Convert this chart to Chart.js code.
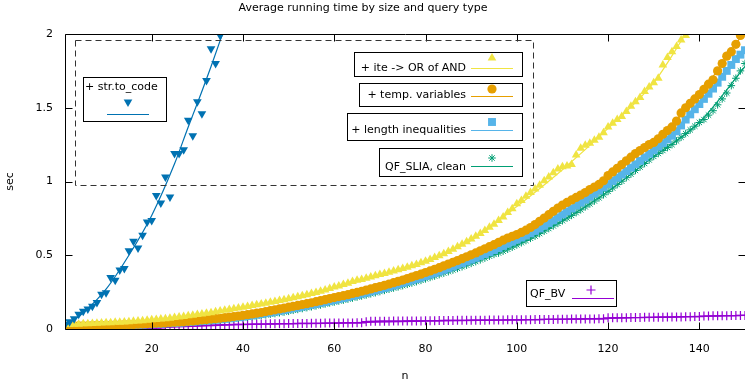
<!DOCTYPE html>
<html><head><meta charset="utf-8">
<script src="https://cdn.jsdelivr.net/npm/chart.js@4.4.1/dist/chart.umd.min.js"></script>
<style>html,body{margin:0;padding:0;background:#fff;}canvas{display:block;}</style>
</head><body>
<canvas id="c" width="745" height="384"></canvas>
<script>
const chartTitle = 'Average running time by size and query type';
const xTitle = 'n';
const yTitle = 'sec';
const xTicks = [20, 40, 60, 80, 100, 120, 140];
const yTicks = [0, 0.5, 1, 1.5, 2];
const yTickLabels = ['0', '0.5', '1', '1.5', '2'];

const seriesNames = ['+ str.to_code', '+ ite -> OR of AND', '+ temp. variables', '+ length inequalities', 'QF_SLIA, clean', 'QF_BV'];

// str.to_code, n = 1..35
const strToCode = [0.03,0.05,0.07,0.10,0.12,0.135,0.155,0.18,0.235,0.245,0.35,0.33,0.40,0.41,0.53,0.595,0.55,0.635,0.725,0.735,0.905,0.855,1.03,0.895,1.19,1.19,1.215,1.415,1.31,1.54,1.46,1.685,1.90,1.80,1.99];
// ite -> OR of AND, n = 1..137
const iteOrAnd = [0.030,0.031,0.032,0.033,0.035,0.036,0.037,0.039,0.040,0.042,
0.043,0.045,0.046,0.048,0.050,0.052,0.054,0.056,0.059,0.062,
0.064,0.067,0.070,0.073,0.078,0.081,0.085,0.089,0.094,0.098,
0.102,0.107,0.111,0.117,0.122,0.127,0.132,0.137,0.143,0.148,
0.153,0.159,0.164,0.170,0.175,0.181,0.187,0.193,0.199,0.205,
0.212,0.219,0.226,0.232,0.240,0.247,0.256,0.264,0.274,0.285,
0.292,0.301,0.310,0.322,0.330,0.336,0.344,0.352,0.361,0.370,
0.377,0.385,0.393,0.401,0.410,0.418,0.428,0.438,0.449,0.460,
0.472,0.485,0.497,0.511,0.525,0.541,0.557,0.574,0.592,0.610,
0.628,0.648,0.668,0.689,0.710,0.735,0.760,0.790,0.815,0.850,
0.872,0.900,0.925,0.950,0.975,1.005,1.030,1.060,1.085,1.100,
1.105,1.115,1.180,1.225,1.245,1.260,1.280,1.300,1.330,1.370,
1.395,1.420,1.440,1.475,1.510,1.540,1.570,1.610,1.640,1.670,
1.700,1.790,1.840,1.880,1.915,1.960,1.990];
// temp. variables, n = 1..150
const tempVars = [0.020,0.020,0.021,0.021,0.022,0.022,0.023,0.024,0.024,0.025,
0.026,0.027,0.028,0.029,0.030,0.031,0.033,0.034,0.036,0.037,
0.039,0.040,0.042,0.044,0.046,0.048,0.050,0.052,0.055,0.058,
0.061,0.064,0.067,0.070,0.073,0.077,0.080,0.084,0.088,0.093,
0.097,0.102,0.107,0.112,0.118,0.124,0.130,0.136,0.142,0.148,
0.154,0.160,0.166,0.172,0.178,0.185,0.192,0.199,0.206,0.213,
0.220,0.226,0.233,0.241,0.248,0.256,0.264,0.272,0.280,0.288,
0.296,0.305,0.314,0.323,0.332,0.342,0.352,0.362,0.372,0.383,
0.394,0.405,0.416,0.428,0.440,0.452,0.464,0.477,0.490,0.503,
0.516,0.530,0.544,0.558,0.572,0.587,0.602,0.617,0.628,0.640,
0.655,0.670,0.688,0.708,0.730,0.752,0.775,0.798,0.820,0.840,
0.858,0.875,0.892,0.908,0.925,0.945,0.962,0.980,1.005,1.040,
1.065,1.090,1.115,1.140,1.165,1.190,1.210,1.230,1.250,1.265,
1.290,1.320,1.345,1.370,1.410,1.465,1.500,1.530,1.560,1.590,
1.625,1.660,1.690,1.750,1.800,1.850,1.880,1.930,1.990,2.030];
// length inequalities, n = 1..150
const lengthIneq = [0.018,0.018,0.019,0.019,0.020,0.020,0.021,0.021,0.022,0.023,
0.023,0.024,0.025,0.026,0.027,0.028,0.029,0.030,0.032,0.033,
0.035,0.036,0.038,0.040,0.041,0.043,0.045,0.047,0.050,0.052,
0.055,0.057,0.060,0.063,0.066,0.069,0.072,0.076,0.080,0.084,
0.088,0.092,0.097,0.102,0.107,0.112,0.118,0.123,0.129,0.135,
0.141,0.146,0.152,0.158,0.164,0.170,0.177,0.183,0.190,0.197,
0.204,0.210,0.217,0.224,0.231,0.239,0.246,0.254,0.262,0.270,
0.278,0.286,0.294,0.303,0.312,0.321,0.330,0.339,0.349,0.359,
0.369,0.379,0.390,0.401,0.412,0.423,0.434,0.446,0.458,0.470,
0.482,0.495,0.508,0.521,0.535,0.549,0.563,0.578,0.592,0.606,
0.620,0.634,0.649,0.665,0.682,0.700,0.718,0.737,0.757,0.777,
0.797,0.817,0.837,0.857,0.877,0.897,0.918,0.939,0.960,0.982,
1.004,1.026,1.048,1.071,1.094,1.117,1.140,1.164,1.188,1.212,
1.236,1.260,1.285,1.310,1.340,1.380,1.420,1.455,1.490,1.525,
1.560,1.595,1.630,1.670,1.710,1.750,1.790,1.830,1.860,1.890];
// QF_SLIA, clean, n = 1..150
const slia = [0.016,0.016,0.017,0.017,0.018,0.018,0.019,0.019,0.020,0.021,
0.021,0.022,0.023,0.024,0.025,0.026,0.027,0.028,0.029,0.030,
0.032,0.033,0.035,0.036,0.038,0.040,0.042,0.044,0.046,0.048,
0.050,0.053,0.055,0.058,0.061,0.064,0.067,0.070,0.073,0.077,
0.080,0.084,0.088,0.092,0.096,0.101,0.105,0.110,0.115,0.120,
0.127,0.133,0.139,0.145,0.151,0.157,0.163,0.170,0.177,0.183,
0.190,0.196,0.203,0.210,0.217,0.224,0.231,0.239,0.246,0.254,
0.262,0.270,0.278,0.286,0.294,0.303,0.312,0.321,0.330,0.340,
0.350,0.359,0.369,0.379,0.389,0.400,0.411,0.422,0.433,0.445,
0.457,0.469,0.481,0.494,0.506,0.515,0.528,0.541,0.555,0.570,
0.585,0.600,0.615,0.630,0.647,0.664,0.681,0.699,0.716,0.734,
0.752,0.770,0.789,0.808,0.828,0.848,0.868,0.889,0.910,0.933,
0.956,0.979,1.002,1.026,1.050,1.075,1.098,1.122,1.146,1.170,
1.190,1.210,1.230,1.250,1.275,1.300,1.325,1.350,1.375,1.400,
1.420,1.450,1.480,1.520,1.560,1.600,1.650,1.700,1.750,1.800];
// QF_BV, n = 1..150
const qfbv = [0.004,0.004,0.004,0.004,0.004,0.004,0.004,0.004,0.004,0.004,
0.005,0.005,0.005,0.005,0.005,0.005,0.005,0.005,0.005,0.005,
0.006,0.008,0.012,0.016,0.018,0.019,0.020,0.021,0.022,0.023,
0.024,0.025,0.026,0.027,0.028,0.029,0.030,0.031,0.031,0.032,
0.032,0.033,0.033,0.034,0.034,0.035,0.035,0.036,0.036,0.037,
0.037,0.038,0.038,0.038,0.039,0.039,0.039,0.040,0.040,0.040,
0.040,0.041,0.041,0.041,0.042,0.042,0.050,0.052,0.052,0.053,
0.053,0.053,0.054,0.054,0.054,0.055,0.055,0.055,0.055,0.056,
0.056,0.056,0.057,0.058,0.058,0.058,0.059,0.059,0.059,0.060,
0.060,0.060,0.060,0.061,0.061,0.061,0.061,0.062,0.062,0.062,
0.062,0.063,0.063,0.064,0.064,0.065,0.065,0.065,0.066,0.066,
0.066,0.067,0.067,0.067,0.068,0.068,0.068,0.069,0.069,0.076,
0.076,0.077,0.077,0.077,0.078,0.078,0.078,0.079,0.079,0.079,
0.080,0.080,0.081,0.081,0.082,0.082,0.083,0.083,0.084,0.084,
0.088,0.088,0.089,0.089,0.090,0.090,0.091,0.091,0.092,0.092];

// fitted curves
const strFitN = [1, 5, 10, 15, 20, 25, 28, 30, 33, 35.5];
const strFitV = [0.02, 0.11, 0.27, 0.50, 0.77, 1.12, 1.37, 1.53, 1.78, 2.0];
const iteFitN = [1, 20, 40, 60, 80, 90, 100, 110, 120, 130, 137];
const iteFitV = [0.03, 0.06, 0.147, 0.28, 0.46, 0.60, 0.83, 1.08, 1.36, 1.67, 2.0];
const fitN = [1, 20, 40, 60, 80, 100, 110, 120, 130, 140, 150];
const tempFitV = [0.02, 0.037, 0.093, 0.213, 0.383, 0.64, 0.84, 1.04, 1.265, 1.59, 2.02];
const lenFitV = [0.018, 0.033, 0.084, 0.197, 0.359, 0.606, 0.777, 0.982, 1.212, 1.525, 1.89];
const sliaFitV = [0.016, 0.030, 0.077, 0.183, 0.340, 0.570, 0.734, 0.933, 1.170, 1.400, 1.78];
const bvFitN = [1, 20, 40, 60, 80, 100, 120, 150];
const bvFitV = [0.003, 0.008, 0.030, 0.040, 0.054, 0.062, 0.072, 0.092];

const colors = ['#0072b2', '#f0e442', '#e69f00', '#56b4e9', '#009e73', '#9400d3'];

const toPts = arr => arr.map((v, i) => ({x: i + 1, y: v}));
const toFit = (ns, vs) => ns.map((n, i) => ({x: n, y: vs[i]}));

function pts(label, arr, color, style, radius, extra) {
  return Object.assign({
    label, data: toPts(arr), showLine: false,
    pointStyle: style, pointRadius: radius, pointHoverRadius: radius,
    backgroundColor: color, borderColor: color, pointBorderWidth: 0
  }, extra || {});
}
function fit(label, ns, vs, color, w) {
  return {
    label, data: toFit(ns, vs), showLine: true, pointRadius: 0,
    borderColor: color, borderWidth: w || 1, cubicInterpolationMode: 'monotone', fill: false
  };
}

const datasets = [
  fit('fit str', strFitN, strFitV, colors[0], 1.2),
  pts(seriesNames[0], strToCode, colors[0], 'triangle', 5, {rotation: 180}),
  fit('fit ite', iteFitN, iteFitV, colors[1], 1.2),
  pts(seriesNames[1], iteOrAnd, colors[1], 'triangle', 5),
  pts(seriesNames[2], tempVars, colors[2], 'circle', 4.6),
  fit('fit temp', fitN, tempFitV, colors[2], 1.2),
  pts(seriesNames[3], lengthIneq, colors[3], 'rect', 5.6),
  fit('fit len', fitN, lenFitV, colors[3], 1.2),
  pts(seriesNames[4], slia, colors[4], 'star', 3.8, {pointBorderWidth: 1}),
  fit('fit slia', fitN, sliaFitV, colors[4], 1.2),
  pts(seriesNames[5], qfbv, colors[5], 'cross', 4.5, {pointBorderWidth: 1.2}),
  fit('fit bv', bvFitN, bvFitV, colors[5], 1.2)
];

function marker(ctx, style, x, y, r, color, rot) {
  ctx.save();
  ctx.fillStyle = color; ctx.strokeStyle = color; ctx.lineWidth = 1.2;
  ctx.translate(x, y);
  if (rot) ctx.rotate(rot * Math.PI / 180);
  ctx.beginPath();
  if (style === 'triangle') {
    ctx.moveTo(0, -r); ctx.lineTo(r * 0.866, r * 0.5); ctx.lineTo(-r * 0.866, r * 0.5); ctx.closePath(); ctx.fill();
  } else if (style === 'circle') {
    ctx.arc(0, 0, r, 0, Math.PI * 2); ctx.fill();
  } else if (style === 'rect') {
    const s = r * Math.SQRT1_2; ctx.rect(-s, -s, 2 * s, 2 * s); ctx.fill();
  } else if (style === 'cross') {
    ctx.moveTo(0, -r); ctx.lineTo(0, r); ctx.moveTo(-r, 0); ctx.lineTo(r, 0); ctx.stroke();
  } else if (style === 'star') {
    ctx.lineWidth = 1;
    for (let k = 0; k < 4; k++) { const a = k * Math.PI / 4; ctx.moveTo(-r * Math.cos(a), -r * Math.sin(a)); ctx.lineTo(r * Math.cos(a), r * Math.sin(a)); }
    ctx.stroke();
  }
  ctx.restore();
}

const keys = [
  {name: seriesNames[0], box: [83.5, 77.5, 166.5, 121.5], text: [85, 87, 'left'], mk: [128, 102], ln: [107, 149, 114.5], color: colors[0], style: 'triangle', r: 5, rot: 180},
  {name: seriesNames[1], box: [354.5, 52.5, 522.5, 76.5], text: [466, 68, 'right'], mk: [492, 58], ln: [471, 513, 68.5], color: colors[1], style: 'triangle', r: 5},
  {name: seriesNames[2], box: [359.5, 83.5, 522.5, 106.5], text: [466, 95, 'right'], mk: [492, 89], ln: [471, 513, 96.5], color: colors[2], style: 'circle', r: 4.6},
  {name: seriesNames[3], box: [347.5, 113.5, 522.5, 140.5], text: [466, 130, 'right'], mk: [492, 122], ln: [471, 513, 130.5], color: colors[3], style: 'rect', r: 5.6},
  {name: seriesNames[4], box: [379.5, 148.5, 522.5, 176.5], text: [466, 167, 'right'], mk: [492, 158], ln: [471, 513, 166.5], color: colors[4], style: 'star', r: 3.8},
  {name: seriesNames[5], box: [526.5, 280.5, 616.5, 306.5], text: [530, 294, 'left'], mk: [591, 290], ln: [572, 614, 298.5], color: colors[5], style: 'cross', r: 4.5}
];

const decor = {
  id: 'decor',
  afterDatasetsDraw(chart) {
    const {ctx, chartArea: a, scales: {x, y}} = chart;
    ctx.save();
    ctx.strokeStyle = '#000'; ctx.lineWidth = 1;
    const L = Math.round(a.left) + 0.5, R = Math.round(a.right) + 0.5, T = Math.round(a.top) + 0.5, B = Math.round(a.bottom) + 0.5;
    ctx.beginPath();
    ctx.rect(L, T, R - L, B - T);
    xTicks.forEach(v => {
      const px = Math.round(x.getPixelForValue(v)) + 0.5;
      ctx.moveTo(px, B); ctx.lineTo(px, B - 7);
      ctx.moveTo(px, T); ctx.lineTo(px, T + 7);
    });
    yTicks.forEach(v => {
      const py = Math.round(y.getPixelForValue(v)) + 0.5;
      ctx.moveTo(L, py); ctx.lineTo(L + 7, py);
      ctx.moveTo(R, py); ctx.lineTo(R - 7, py);
    });
    ctx.stroke();

    // dashed outer key frame
    ctx.beginPath();
    ctx.setLineDash([6, 4]);
    ctx.strokeStyle = '#333';
    ctx.rect(75.5, 40.5, 458, 145);
    ctx.stroke();
    ctx.setLineDash([]);

    // key boxes
    ctx.font = '11px "DejaVu Sans"';
    ctx.textBaseline = 'middle';
    keys.forEach(k => {
      const [x0, y0, x1, y1] = k.box;
      ctx.fillStyle = '#fff';
      ctx.fillRect(x0, y0, x1 - x0, y1 - y0);
      ctx.strokeStyle = '#000'; ctx.lineWidth = 1;
      ctx.strokeRect(x0, y0, x1 - x0, y1 - y0);
      ctx.fillStyle = '#000';
      ctx.textAlign = k.text[2];
      ctx.fillText(k.name, k.text[0], k.text[1]);
      ctx.strokeStyle = k.color; ctx.lineWidth = 1.2;
      ctx.beginPath(); ctx.moveTo(k.ln[0], k.ln[2]); ctx.lineTo(k.ln[1], k.ln[2]); ctx.stroke();
      marker(ctx, k.style, k.mk[0], k.mk[1], k.r, k.color, k.rot);
    });

    // title
    ctx.fillStyle = '#000';
    ctx.textAlign = 'center';
    ctx.fillText(chartTitle, 363, 8);
    ctx.restore();
  }
};

Chart.defaults.font.family = '"DejaVu Sans"';
Chart.defaults.font.size = 11;
Chart.defaults.color = '#000';

const noPad = s => { s.paddingLeft = 0; s.paddingRight = 0; s.paddingTop = 0; s.paddingBottom = 0; };

new Chart(document.getElementById('c'), {
  type: 'scatter',
  data: {datasets},
  options: {
    responsive: false, animation: false, devicePixelRatio: 1,
    layout: {padding: {top: 34, right: 0, left: 0, bottom: 0}, autoPadding: false},
    plugins: {legend: {display: false}, tooltip: {enabled: false}, title: {display: false}},
    scales: {
      x: {
        type: 'linear', min: 1, max: 150,
        grid: {display: false, drawTicks: false}, border: {display: false},
        afterBuildTicks: s => { s.ticks = xTicks.map(v => ({value: v})); },
        afterFit: s => { s.height = 55; noPad(s); },
        ticks: {padding: 14, maxRotation: 0, autoSkip: false, callback: v => String(v)},
        title: {display: true, text: xTitle, padding: {top: 0, bottom: 1.5}}
      },
      y: {
        type: 'linear', min: 0, max: 2,
        grid: {display: false, drawTicks: false}, border: {display: false},
        afterBuildTicks: s => { s.ticks = yTicks.map(v => ({value: v})); },
        afterFit: s => { s.width = 65; noPad(s); },
        ticks: {padding: 12, autoSkip: false, callback: v => yTickLabels[yTicks.indexOf(v)]},
        title: {display: true, text: yTitle, padding: {top: 3.5, bottom: 0}}
      }
    }
  },
  plugins: [decor]
});
</script>
</body></html>
